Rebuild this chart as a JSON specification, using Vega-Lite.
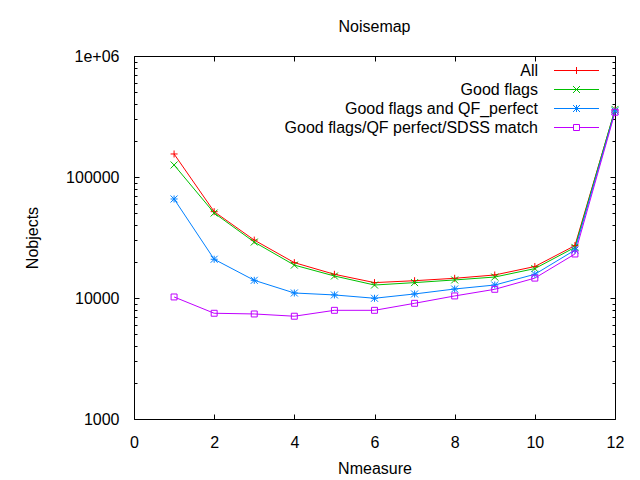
{
  "$schema": "https://vega.github.io/schema/vega-lite/v6.json",
  "autosize": "none",
  "width": 481,
  "height": 363,
  "padding": {"left": 134, "top": 56, "right": 25, "bottom": 61},
  "background": "white",
  "title": {"text": "Noisemap", "font": "Liberation Sans", "fontSize": 16, "fontWeight": "normal", "color": "black", "offset": 13},
  "config": {
    "view": {"stroke": "black", "strokeWidth": 1},
    "axis": {
      "domain": false, "grid": false, "tickColor": "black", "tickWidth": 1,
      "labelFont": "Liberation Sans", "labelFontSize": 16, "labelColor": "black",
      "titleFont": "Liberation Sans", "titleFontSize": 16, "titleFontWeight": "normal", "titleColor": "black"
    }
  },
  "data": {"values": [
    {"n": 1, "series": "All", "count": 155000},
    {"n": 2, "series": "All", "count": 51700},
    {"n": 3, "series": "All", "count": 30100},
    {"n": 4, "series": "All", "count": 19600},
    {"n": 5, "series": "All", "count": 15700},
    {"n": 6, "series": "All", "count": 13400},
    {"n": 7, "series": "All", "count": 13900},
    {"n": 8, "series": "All", "count": 14550},
    {"n": 9, "series": "All", "count": 15500},
    {"n": 10, "series": "All", "count": 18200},
    {"n": 11, "series": "All", "count": 27100},
    {"n": 12, "series": "All", "count": 358000},
    {"n": 1, "series": "Good flags", "count": 125700},
    {"n": 2, "series": "Good flags", "count": 50400},
    {"n": 3, "series": "Good flags", "count": 29000},
    {"n": 4, "series": "Good flags", "count": 18700},
    {"n": 5, "series": "Good flags", "count": 15200},
    {"n": 6, "series": "Good flags", "count": 12800},
    {"n": 7, "series": "Good flags", "count": 13400},
    {"n": 8, "series": "Good flags", "count": 14100},
    {"n": 9, "series": "Good flags", "count": 14900},
    {"n": 10, "series": "Good flags", "count": 17500},
    {"n": 11, "series": "Good flags", "count": 26200},
    {"n": 12, "series": "Good flags", "count": 362000},
    {"n": 1, "series": "Good flags and QF_perfect", "count": 65800},
    {"n": 2, "series": "Good flags and QF_perfect", "count": 20900},
    {"n": 3, "series": "Good flags and QF_perfect", "count": 14000},
    {"n": 4, "series": "Good flags and QF_perfect", "count": 11000},
    {"n": 5, "series": "Good flags and QF_perfect", "count": 10600},
    {"n": 6, "series": "Good flags and QF_perfect", "count": 9950},
    {"n": 7, "series": "Good flags and QF_perfect", "count": 10800},
    {"n": 8, "series": "Good flags and QF_perfect", "count": 11870},
    {"n": 9, "series": "Good flags and QF_perfect", "count": 12800},
    {"n": 10, "series": "Good flags and QF_perfect", "count": 15700},
    {"n": 11, "series": "Good flags and QF_perfect", "count": 24900},
    {"n": 12, "series": "Good flags and QF_perfect", "count": 351000},
    {"n": 1, "series": "Good flags/QF perfect/SDSS match", "count": 10200},
    {"n": 2, "series": "Good flags/QF perfect/SDSS match", "count": 7480},
    {"n": 3, "series": "Good flags/QF perfect/SDSS match", "count": 7380},
    {"n": 4, "series": "Good flags/QF perfect/SDSS match", "count": 7070},
    {"n": 5, "series": "Good flags/QF perfect/SDSS match", "count": 7910},
    {"n": 6, "series": "Good flags/QF perfect/SDSS match", "count": 7910},
    {"n": 7, "series": "Good flags/QF perfect/SDSS match", "count": 9040},
    {"n": 8, "series": "Good flags/QF perfect/SDSS match", "count": 10400},
    {"n": 9, "series": "Good flags/QF perfect/SDSS match", "count": 11800},
    {"n": 10, "series": "Good flags/QF perfect/SDSS match", "count": 14600},
    {"n": 11, "series": "Good flags/QF perfect/SDSS match", "count": 23100},
    {"n": 12, "series": "Good flags/QF perfect/SDSS match", "count": 343000}
  ]},
  "resolve": {"scale": {"shape": "independent"}, "axis": {"x": "independent", "y": "independent"}},
  "layer": [
    {
      "mark": {"type": "line", "strokeWidth": 1},
      "encoding": {
        "x": {"field": "n", "type": "quantitative", "title": "Nmeasure",
          "scale": {"domain": [0, 12], "nice": false, "zero": false},
          "axis": {"orient": "bottom", "values": [0, 2, 4, 6, 8, 10, 12], "format": "d", "labelFlush": false,
            "offset": -5, "tickSize": 5, "labelPadding": 15, "titlePadding": 10}},
        "y": {"field": "count", "type": "quantitative", "title": "Nobjects",
          "scale": {"type": "log", "domain": [1000, 1000000], "nice": false},
          "axis": {"orient": "left", "values": [1000, 10000, 100000, 1000000], "offset": -5, "tickSize": 5, "labelPadding": 15,
            "labelExpr": "datum.value >= 1000000 ? '1e+06' : format(datum.value, 'd')", "labelFlush": false, "titlePadding": 25}},
        "color": {"field": "series", "type": "nominal", "legend": null,
          "scale": {"domain": ["All", "Good flags", "Good flags and QF_perfect", "Good flags/QF perfect/SDSS match"],
            "range": ["#ff0000", "#00c000", "#0080ff", "#c000ff"]}},
        "order": {"field": "n"}
      }
    },
    {
      "mark": {"type": "point", "filled": false, "size": 49, "strokeWidth": 1, "opacity": 1},
      "encoding": {
        "x": {"field": "n", "type": "quantitative", "axis": null},
        "y": {"field": "count", "type": "quantitative", "axis": null},
        "color": {"field": "series", "type": "nominal", "legend": null},
        "shape": {"field": "series", "type": "nominal", "legend": null,
          "scale": {"domain": ["All", "Good flags", "Good flags and QF_perfect", "Good flags/QF perfect/SDSS match"],
            "range": ["M-1,0H1M0,-1V1", "M-1,-1L1,1M-1,1L1,-1", "M-1,0H1M0,-1V1M-1,-1L1,1M-1,1L1,-1", "M-0.85,-0.85H0.85V0.85H-0.85Z"]}}
      }
    },
    {
      "mark": {"type": "point", "filled": false, "opacity": 0},
      "encoding": {
        "x": {"field": "n", "type": "quantitative",
          "axis": {"orient": "top", "values": [0, 2, 4, 6, 8, 10, 12], "labels": false, "offset": -5, "tickSize": 5, "title": null}},
        "y": {"field": "count", "type": "quantitative",
          "axis": {"orient": "left", "labels": false, "offset": -3, "tickSize": 3, "title": null,
            "values": [2000, 3000, 4000, 5000, 6000, 7000, 8000, 9000, 20000, 30000, 40000, 50000, 60000, 70000, 80000, 90000, 200000, 300000, 400000, 500000, 600000, 700000, 800000, 900000]}},
        "shape": {"field": "series", "type": "nominal",
          "scale": {"domain": ["All", "Good flags", "Good flags and QF_perfect", "Good flags/QF perfect/SDSS match"],
            "range": ["M-4.5,0H4.5M0,-0.7V0.7", "M-4.5,0H4.5M-0.7,-0.7L0.7,0.7M-0.7,0.7L0.7,-0.7", "M-4.5,0H4.5M0,-0.7V0.7M-0.7,-0.7L0.7,0.7M-0.7,0.7L0.7,-0.7", "M-4.5,0H-0.6M0.6,0H4.5M-0.6,-0.6H0.6V0.6H-0.6Z"]},
          "legend": {"orient": "none", "legendX": 434.5, "legendY": 6.5, "direction": "vertical", "title": null,
            "symbolSize": 100, "symbolStrokeWidth": 1, "symbolOpacity": 1, "symbolFillColor": "transparent",
            "symbolStrokeColor": {"expr": "['#ff0000', '#00c000', '#0080ff', '#c000ff'][indexof(['All', 'Good flags', 'Good flags and QF_perfect', 'Good flags/QF perfect/SDSS match'], datum.value)]"},
            "labelAlign": "right", "labelOffset": -46.5, "labelLimit": 400, "labelFont": "Liberation Sans",
            "labelFontSize": 16, "labelColor": "black", "rowPadding": 3, "padding": 0}}
      }
    },
    {
      "mark": {"type": "point", "opacity": 0},
      "encoding": {
        "x": {"field": "n", "type": "quantitative", "axis": null},
        "y": {"field": "count", "type": "quantitative",
          "axis": {"orient": "right", "values": [1000, 10000, 100000, 1000000], "labels": false, "offset": -5, "tickSize": 5, "title": null}}
      }
    },
    {
      "mark": {"type": "point", "opacity": 0},
      "encoding": {
        "x": {"field": "n", "type": "quantitative", "axis": null},
        "y": {"field": "count", "type": "quantitative",
          "axis": {"orient": "right", "labels": false, "offset": -3, "tickSize": 3, "title": null,
            "values": [2000, 3000, 4000, 5000, 6000, 7000, 8000, 9000, 20000, 30000, 40000, 50000, 60000, 70000, 80000, 90000, 200000, 300000, 400000, 500000, 600000, 700000, 800000, 900000]}}
      }
    }
  ]
}
